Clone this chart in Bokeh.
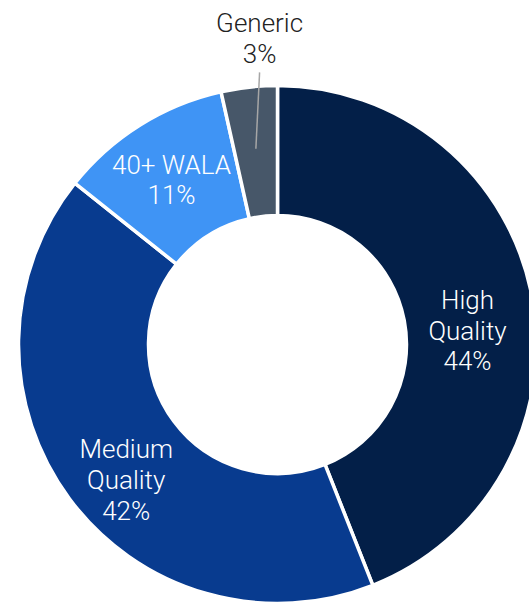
import math
from bokeh.plotting import figure
from bokeh.models import Range1d, ColumnDataSource
from bokeh.core.properties import value
from bokeh.embed import file_html
from bokeh.resources import INLINE

# ---- data ----
categories = ["High\nQuality", "Medium\nQuality", "40+ WALA", "Generic"]
shares = [44.0, 41.7, 10.8, 3.5]
pct_labels = ["44%", "42%", "11%", "3%"]
colors = ["#031F48", "#083B8F", "#3F94F5", "#475769"]

# ---- layout (pixels) ----
W, H = 529, 602
cx, cy = 277, 258          # donut centre in data units (1 unit = 1 px)
r_out, r_in = 259, 129
r_lab = 197
nudges = [(-3.5, -23), (7, -18), (-1.5, -2.5), (16, -1)]   # label nudges (px)
outside = [False, False, False, True]
r_out_lab = 309

total = sum(shares)
starts, ends, mids = [], [], []
acc = 0.0
for s in shares:
    a0 = math.pi / 2 - 2 * math.pi * acc / total
    acc += s
    a1 = math.pi / 2 - 2 * math.pi * acc / total
    starts.append(a0)
    ends.append(a1)
    mids.append((a0 + a1) / 2)

lx, ly, texts = [], [], []
for i, m in enumerate(mids):
    r = r_out_lab if outside[i] else r_lab
    lx.append(cx + r * math.cos(m) + nudges[i][0])
    ly.append(cy + r * math.sin(m) + nudges[i][1])
    texts.append(categories[i] + "\n" + pct_labels[i])

p = figure(width=W, height=H, output_backend="svg", toolbar_location=None,
           x_range=Range1d(0, W), y_range=Range1d(0, H),
           min_border=0, outline_line_color=None)
p.axis.visible = False
p.grid.visible = False
p.background_fill_color = "white"
p.border_fill_color = "white"

src = ColumnDataSource(dict(start=starts, end=ends, color=colors))
p.annular_wedge(x=cx, y=cy, inner_radius=r_in, outer_radius=r_out,
                start_angle="start", end_angle="end", direction="clock",
                fill_color="color", line_color="white", line_width=3.5,
                source=src)

# leader line for outside label
for i in range(len(shares)):
    if outside[i]:
        x0, y0 = lx[i], ly[i] - 34
        x1 = cx + r_lab * math.cos(mids[i])
        y1 = cy + r_lab * math.sin(mids[i])
        p.line([x0, x1], [y0, y1], line_color="#A6A6A6", line_width=1.5)

tcol = ["white" if not o else "#222222" for o in outside]
p.text(x=lx, y=ly, text=texts, text_align="center", text_baseline="middle",
       text_font=value("Roboto Light"), text_font_size="26px",
       text_line_height=1.03, text_color=tcol)

open("out.html", "w").write(file_html(p, INLINE))
